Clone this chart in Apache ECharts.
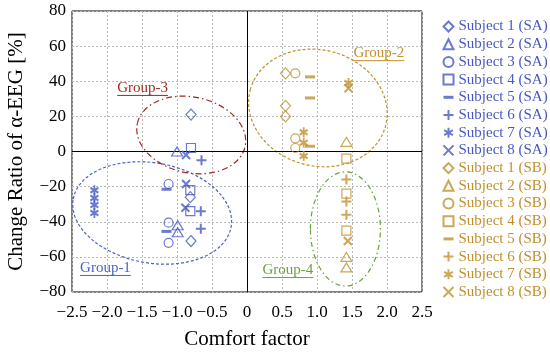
<!DOCTYPE html>
<html><head><meta charset="utf-8">
<script src="https://cdn.jsdelivr.net/npm/echarts@6/dist/echarts.min.js"></script>
<style>html,body{margin:0;padding:0;background:#fff}#c{width:550px;height:353px}</style>
</head><body><div id="c"></div>
<script>
// ---- data ----
const subjectNames = ['Subject 1','Subject 2','Subject 3','Subject 4','Subject 5','Subject 6','Subject 7','Subject 8'];
// SA (blue)
const sa1 = [[-0.80,21],[-0.81,-26],[-0.80,-51]];
const sa2 = [[-1.00,0],[-0.99,-42],[-0.99,-46]];
const sa3 = [[-1.12,-18.5],[-1.12,-40.5],[-1.12,-52]];
const sa4 = [[-0.80,2],[-0.81,-22],[-0.81,-34]];
const sa5 = [[-1.15,-21.5],[-1.15,-45.5]];
const sa6 = [[-0.65,-5],[-0.66,-34],[-0.66,-44]];
const sa7 = [[-2.18,-22],[-2.18,-26.5],[-2.18,-30.5],[-2.18,-35]];
const sa8 = [[-0.87,-2],[-0.87,-18.5],[-0.88,-32]];
// SB (gold)
const sb1 = [[0.55,44.5],[0.55,26],[0.55,20]];
const sb2 = [[1.42,5.5],[1.42,-60],[1.42,-66]];
const sb3 = [[0.69,44.5],[0.69,7.5],[0.69,2]];
const sb4 = [[1.42,-4],[1.42,-24],[1.42,-45]];
const sb5 = [[0.90,42.5],[0.90,30.5],[0.90,3]];
const sb6 = [[1.42,-16],[1.42,-28.5],[1.42,-36]];
const sb7 = [[0.81,11],[0.81,5],[0.81,-2.5],[1.45,39]];
const sb8 = [[1.44,-51],[1.45,36]];
// group ellipses: [cx, cy, rx, ry, rotationDeg] in data units; label anchors
const groupNames = ['Group-1','Group-2','Group-3','Group-4'];
const groupEllipses = [[-1.355,-35.0,1.145,28.5,-10],[1.013,24.8,1.0,33,-15],[-0.797,9.4,0.787,21.6,-12],[1.406,-44.1,0.50,32.5,0]];
const groupLabelPos = [[-2.385,-66.3],[1.52,56],[-1.855,36.2],[0.22,-67.5]];

// ---- styles ----
const SA = '#4659c0', SB = '#c0902e';
const groupColors = ['#4c62c6','#c0902e','#9e2a22','#6aa33a'];
const groupDash = [[3,2],[3,2],[6,3,1.5,3],[5,3,1.5,3]];
const FONT = '"Liberation Serif","Times New Roman",serif';
const symbols = ['diamond','triangle','circle','rect','path://M0 0H10V3H0Z','path://M5 0V10M0 5H10','path://M5 0V10M0.67 2.5L9.33 7.5M0.67 7.5L9.33 2.5','path://M0 0L10 10M0 10L10 0'];
const sizes = [[10,11],[11,9],9,9,[10,3],[10,10],[8,10],[8,8]];
function style(i,c){
  if(i<4) return {color:'none',borderColor:c,borderWidth:1.2};
  if(i===4) return {color:c,borderWidth:0};
  return {color:'none',borderColor:c,borderWidth:2};
}
const saData=[sa1,sa2,sa3,sa4,sa5,sa6,sa7,sa8], sbData=[sb1,sb2,sb3,sb4,sb5,sb6,sb7,sb8];
const series=[], legendData=[];
[[saData,SA,'SA'],[sbData,SB,'SB']].forEach(([arr,c,tag])=>{
  arr.forEach((d,i)=>{
    const name=subjectNames[i]+' ('+tag+')';
    series.push({type:'scatter',name,data:d,symbol:symbols[i],symbolSize:sizes[i],itemStyle:style(i,c),z:5});
    legendData.push({name,textStyle:{color:c}});
  });
});
series[0].markLine={silent:true,symbol:'none',label:{show:false},lineStyle:{color:'#000',type:'solid',width:1},data:[{xAxis:0},{yAxis:0}],animation:false};

const chart=echarts.init(document.getElementById('c'),null,{renderer:'canvas'});
chart.setOption({
  animation:false,
  grid:{left:72,right:128,top:11,bottom:61,show:true,borderColor:'#000',borderWidth:1,containLabel:false,outerBoundsMode:'none'},
  xAxis:{type:'value',min:-2.5,max:2.5,interval:0.5,name:'Comfort factor',nameLocation:'middle',nameGap:37,
    nameTextStyle:{fontFamily:FONT,fontSize:21,color:'#000'},
    axisLine:{show:false},axisTick:{show:false},
    splitLine:{show:true,lineStyle:{color:'#b8b8b8',type:[2,2]}},
    axisLabel:{fontFamily:FONT,fontSize:17,color:'#000',margin:12,formatter:v=>v===0?'0':(v<0?'\u2212':'')+Math.abs(v).toFixed(1)}},
  yAxis:{type:'value',min:-80,max:80,interval:20,name:'Change Ratio of \u03b1-EEG [%]',nameLocation:'middle',nameGap:45,
    nameTextStyle:{fontFamily:FONT,fontSize:21,color:'#000'},
    axisLine:{show:false},axisTick:{show:false},
    splitLine:{show:true,lineStyle:{color:'#b8b8b8',type:[2,2]}},
    axisLabel:{fontFamily:FONT,fontSize:17,color:'#000',margin:6,formatter:v=>(v<0?'\u2212':'')+Math.abs(v)}},
  legend:{orient:'vertical',left:441,top:19,padding:0,itemWidth:10,itemHeight:10,itemGap:2.7,symbolKeepAspect:true,
    textStyle:{fontFamily:FONT,fontSize:15},data:legendData,selectedMode:false},
  series
});

// ellipses and labels
const px=p=>chart.convertToPixel({gridIndex:0},p);
const ctx=document.createElement('canvas').getContext('2d');
ctx.font='15px '+FONT;
const graphics=[];
groupEllipses.forEach((e,i)=>{
  const c=px([e[0],e[1]]);
  const rx=px([e[0]+e[2],e[1]])[0]-c[0];
  const ry=c[1]-px([e[0],e[1]+e[3]])[1];
  graphics.push({type:'ellipse',x:c[0],y:c[1],rotation:e[4]*Math.PI/180,shape:{cx:0,cy:0,rx,ry},
    style:{fill:'none',stroke:groupColors[i],lineWidth:1.2,lineDash:groupDash[i]},z:1,silent:true});
  const lp=px(groupLabelPos[i]);
  const w=ctx.measureText(groupNames[i]).width;
  graphics.push({type:'text',x:lp[0],y:lp[1],style:{text:groupNames[i],fill:groupColors[i],font:'15px '+FONT,textVerticalAlign:'middle',textAlign:'left'},z:6,silent:true});
  graphics.push({type:'line',shape:{x1:lp[0],y1:lp[1]+7.5,x2:lp[0]+w,y2:lp[1]+7.5},style:{stroke:groupColors[i],lineWidth:1},z:6,silent:true});
});
chart.setOption({graphic:graphics});
</script></body></html>
